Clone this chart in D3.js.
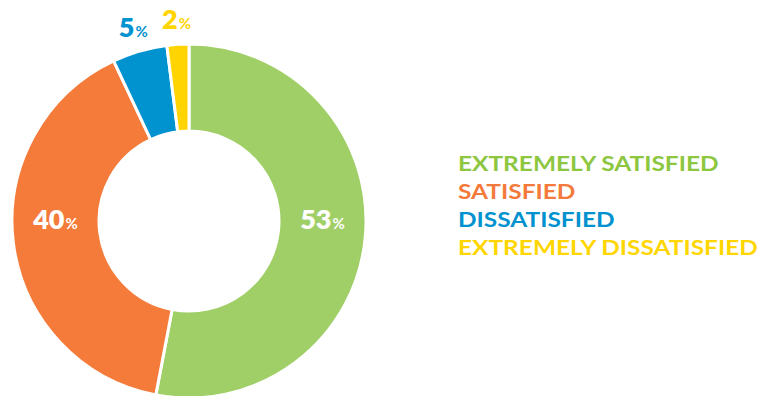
<!DOCTYPE html>
<html>
<head>
<meta charset="utf-8">
<script src="https://cdn.jsdelivr.net/npm/d3@7"></script>
<style>
  html, body { margin: 0; padding: 0; background: #ffffff; }
  svg { display: block; }
  text { font-family: Lato, "Open Sans", sans-serif; font-weight: 700; }
</style>
</head>
<body>
<svg id="chart" width="763" height="396"></svg>
<script>
// Survey satisfaction shares (percent)
const categories = ["EXTREMELY SATISFIED", "SATISFIED", "DISSATISFIED", "EXTREMELY DISSATISFIED"];
const values = [53, 40, 5, 2];
const sliceColors = ["#a0cf67", "#f47b3a", "#0093d0", "#ffd400"];
const legendColors = ["#8dc63f", "#f37a3a", "#0092cf", "#ffd600"];
const insideLabel = [true, true, false, false];

const svg = d3.select("#chart");
const cx = 189, cy = 221;
const outerR = 177, innerR = 90;

const data = categories.map((c, i) => ({ name: c, value: values[i], color: sliceColors[i], inside: insideLabel[i] }));

const pie = d3.pie().value(d => d.value).sort(null);
const arcs = pie(data);
const arc = d3.arc().innerRadius(innerR).outerRadius(outerR);

const g = svg.append("g").attr("transform", `translate(${cx},${cy})`);

g.selectAll("path.slice")
  .data(arcs)
  .join("path")
  .attr("class", "slice")
  .attr("d", arc)
  .attr("fill", d => d.data.color)
  .attr("stroke", "#ffffff")
  .attr("stroke-width", 3)
  .attr("stroke-linejoin", "miter");

// Value labels: large slices inside the ring on the horizontal axis,
// small slices just outside the ring at their mid-angle
const midR = (innerR + outerR) / 2;
const outR = 200;
function labelPos(d) {
  const a = (d.startAngle + d.endAngle) / 2;
  if (d.data.inside) {
    const side = Math.sin(a) >= 0 ? 1 : -1;
    return [side * midR, 8];
  }
  return [outR * Math.sin(a), -outR * Math.cos(a) + 8];
}

const labels = g.selectAll("text.val")
  .data(arcs)
  .join("text")
  .attr("class", "val")
  .attr("text-anchor", "middle")
  .attr("transform", d => { const p = labelPos(d); return `translate(${p[0]},${p[1]})`; })
  .attr("fill", d => d.data.inside ? "#ffffff" : d.data.color);

labels.append("tspan")
  .attr("font-size", 27)
  .attr("font-weight", 800)
  .text(d => d.data.value);
labels.append("tspan")
  .attr("font-size", 15)
  .attr("dx", 1)
  .text("%");

// Legend: one coloured line per category
const legend = svg.append("g").attr("transform", "translate(458,171)");
const legendInner = legend.append("g");
const legendText = legendInner.selectAll("text")
  .data(categories)
  .join("text")
  .attr("x", 0)
  .attr("y", (d, i) => i * 28)
  .attr("font-size", 21)
  .attr("font-weight", 800)
  .attr("fill", (d, i) => legendColors[i])
  .text(d => d);

// Widen the lettering so the longest line spans 300px
const widest = d3.max(legendText.nodes(), n => n.getComputedTextLength());
legendInner.attr("transform", `scale(${300 / widest},1)`);
</script>
</body>
</html>
